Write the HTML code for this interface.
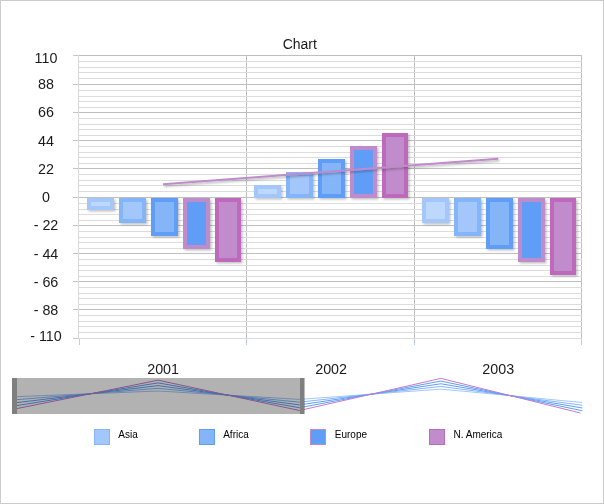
<!DOCTYPE html>
<html><head><meta charset="utf-8"><title>Chart</title>
<style>
html,body{margin:0;padding:0;background:#fff}
#c{position:relative;width:604px;height:504px;box-sizing:border-box;border:1px solid #ccc;background:#fff;overflow:hidden}
#c svg{left:-1px!important;top:-1px!important}
</style></head><body>
<div id="c">
<svg width="604" height="504" viewBox="0 0 604 504" style="position:absolute;left:0;top:0">
<defs><filter id="sh" x="-20%" y="-20%" width="150%" height="150%"><feDropShadow dx="1.5" dy="1.5" stdDeviation="1.2" flood-color="#000" flood-opacity="0.24"/></filter><filter id="shl" x="-5%" y="-50%" width="110%" height="250%"><feDropShadow dx="1" dy="1.5" stdDeviation="0.8" flood-color="#000" flood-opacity="0.32"/></filter></defs>
<g shape-rendering="crispEdges">
<rect x="246" y="55" width="1" height="284" fill="#bfbfbf"/>
<rect x="414" y="55" width="1" height="284" fill="#bfbfbf"/>
<rect x="581" y="55" width="1" height="284" fill="#bfbfbf"/>
<rect x="78" y="55" width="1" height="284" fill="#d9d9d9"/>
<rect x="79" y="55" width="503" height="1" fill="#bfbfbf"/>
<rect x="79" y="61" width="503" height="1" fill="#dcdcdc"/>
<rect x="79" y="67" width="503" height="1" fill="#dcdcdc"/>
<rect x="79" y="72" width="503" height="1" fill="#dcdcdc"/>
<rect x="79" y="78" width="503" height="1" fill="#dcdcdc"/>
<rect x="79" y="84" width="503" height="1" fill="#bfbfbf"/>
<rect x="79" y="90" width="503" height="1" fill="#dcdcdc"/>
<rect x="79" y="96" width="503" height="1" fill="#dcdcdc"/>
<rect x="79" y="101" width="503" height="1" fill="#dcdcdc"/>
<rect x="79" y="107" width="503" height="1" fill="#dcdcdc"/>
<rect x="79" y="112" width="503" height="1" fill="#bfbfbf"/>
<rect x="79" y="118" width="503" height="1" fill="#dcdcdc"/>
<rect x="79" y="124" width="503" height="1" fill="#dcdcdc"/>
<rect x="79" y="129" width="503" height="1" fill="#dcdcdc"/>
<rect x="79" y="135" width="503" height="1" fill="#dcdcdc"/>
<rect x="79" y="140" width="503" height="1" fill="#bfbfbf"/>
<rect x="79" y="146" width="503" height="1" fill="#dcdcdc"/>
<rect x="79" y="152" width="503" height="1" fill="#dcdcdc"/>
<rect x="79" y="157" width="503" height="1" fill="#dcdcdc"/>
<rect x="79" y="163" width="503" height="1" fill="#dcdcdc"/>
<rect x="79" y="168" width="503" height="1" fill="#bfbfbf"/>
<rect x="79" y="174" width="503" height="1" fill="#dcdcdc"/>
<rect x="79" y="180" width="503" height="1" fill="#dcdcdc"/>
<rect x="79" y="185" width="503" height="1" fill="#dcdcdc"/>
<rect x="79" y="191" width="503" height="1" fill="#dcdcdc"/>
<rect x="79" y="197" width="503" height="1" fill="#bfbfbf"/>
<rect x="79" y="203" width="503" height="1" fill="#dcdcdc"/>
<rect x="79" y="209" width="503" height="1" fill="#dcdcdc"/>
<rect x="79" y="214" width="503" height="1" fill="#dcdcdc"/>
<rect x="79" y="220" width="503" height="1" fill="#dcdcdc"/>
<rect x="79" y="225" width="503" height="1" fill="#bfbfbf"/>
<rect x="79" y="231" width="503" height="1" fill="#dcdcdc"/>
<rect x="79" y="237" width="503" height="1" fill="#dcdcdc"/>
<rect x="79" y="242" width="503" height="1" fill="#dcdcdc"/>
<rect x="79" y="248" width="503" height="1" fill="#dcdcdc"/>
<rect x="79" y="253" width="503" height="1" fill="#bfbfbf"/>
<rect x="79" y="259" width="503" height="1" fill="#dcdcdc"/>
<rect x="79" y="265" width="503" height="1" fill="#dcdcdc"/>
<rect x="79" y="270" width="503" height="1" fill="#dcdcdc"/>
<rect x="79" y="276" width="503" height="1" fill="#dcdcdc"/>
<rect x="79" y="281" width="503" height="1" fill="#bfbfbf"/>
<rect x="79" y="287" width="503" height="1" fill="#dcdcdc"/>
<rect x="79" y="293" width="503" height="1" fill="#dcdcdc"/>
<rect x="79" y="298" width="503" height="1" fill="#dcdcdc"/>
<rect x="79" y="304" width="503" height="1" fill="#dcdcdc"/>
<rect x="79" y="309" width="503" height="1" fill="#bfbfbf"/>
<rect x="79" y="315" width="503" height="1" fill="#dcdcdc"/>
<rect x="79" y="321" width="503" height="1" fill="#dcdcdc"/>
<rect x="79" y="326" width="503" height="1" fill="#dcdcdc"/>
<rect x="79" y="332" width="503" height="1" fill="#dcdcdc"/>
<rect x="79" y="338" width="503" height="1" fill="#d9d9d9"/>
<rect x="73" y="55" width="5" height="1" fill="#b3cbea"/>
<rect x="73" y="84" width="5" height="1" fill="#b3cbea"/>
<rect x="73" y="112" width="5" height="1" fill="#b3cbea"/>
<rect x="73" y="140" width="5" height="1" fill="#b3cbea"/>
<rect x="73" y="168" width="5" height="1" fill="#b3cbea"/>
<rect x="73" y="197" width="5" height="1" fill="#b3cbea"/>
<rect x="73" y="225" width="5" height="1" fill="#b3cbea"/>
<rect x="73" y="253" width="5" height="1" fill="#b3cbea"/>
<rect x="73" y="281" width="5" height="1" fill="#b3cbea"/>
<rect x="73" y="309" width="5" height="1" fill="#b3cbea"/>
<rect x="73" y="338" width="5" height="1" fill="#b3cbea"/>
<rect x="79" y="339" width="1" height="6" fill="#b9cfec"/>
<rect x="246" y="339" width="1" height="6" fill="#b9cfec"/>
<rect x="414" y="339" width="1" height="6" fill="#b9cfec"/>
<rect x="581" y="339" width="1" height="6" fill="#b9cfec"/>
</g>
<g shape-rendering="crispEdges">
<rect x="87" y="198" width="27" height="12" fill="#a3c7fb" filter="url(#sh)"/>
<rect x="91" y="202" width="19" height="4" fill="#bed7fd"/>
<rect x="119" y="198" width="27" height="25" fill="#85b5f9" filter="url(#sh)"/>
<rect x="123" y="202" width="19" height="17" fill="#a3c7fb"/>
<rect x="151" y="198" width="27" height="38" fill="#5f9df7" filter="url(#sh)"/>
<rect x="155" y="202" width="19" height="30" fill="#85b5f9"/>
<rect x="183" y="198" width="27" height="51" fill="#be8ccb" filter="url(#sh)"/>
<rect x="187" y="202" width="19" height="43" fill="#5f9df7"/>
<rect x="215" y="198" width="26" height="64" fill="#be69bb" filter="url(#sh)"/>
<rect x="219" y="202" width="18" height="56" fill="#c08ccc"/>
<rect x="254" y="185" width="27" height="13" fill="#a3c7fb" filter="url(#sh)"/>
<rect x="258" y="189" width="19" height="5" fill="#bed7fd"/>
<rect x="286" y="172" width="27" height="26" fill="#85b5f9" filter="url(#sh)"/>
<rect x="290" y="176" width="19" height="18" fill="#a3c7fb"/>
<rect x="318" y="159" width="27" height="39" fill="#5f9df7" filter="url(#sh)"/>
<rect x="322" y="163" width="19" height="31" fill="#85b5f9"/>
<rect x="350" y="146" width="27" height="52" fill="#be8ccb" filter="url(#sh)"/>
<rect x="354" y="150" width="19" height="44" fill="#5f9df7"/>
<rect x="382" y="133" width="26" height="65" fill="#be69bb" filter="url(#sh)"/>
<rect x="386" y="137" width="18" height="57" fill="#c08ccc"/>
<rect x="422" y="198" width="27" height="25" fill="#a3c7fb" filter="url(#sh)"/>
<rect x="426" y="202" width="19" height="17" fill="#bed7fd"/>
<rect x="454" y="198" width="27" height="38" fill="#85b5f9" filter="url(#sh)"/>
<rect x="458" y="202" width="19" height="30" fill="#a3c7fb"/>
<rect x="486" y="198" width="27" height="51" fill="#5f9df7" filter="url(#sh)"/>
<rect x="490" y="202" width="19" height="43" fill="#85b5f9"/>
<rect x="518" y="198" width="27" height="64" fill="#be8ccb" filter="url(#sh)"/>
<rect x="522" y="202" width="19" height="56" fill="#5f9df7"/>
<rect x="550" y="198" width="26" height="77" fill="#be69bb" filter="url(#sh)"/>
<rect x="554" y="202" width="18" height="69" fill="#c08ccc"/>
</g>
<line x1="163" y1="184.3" x2="498.3" y2="158.7" stroke="#be8ccb" stroke-width="2" filter="url(#shl)"/>
<clipPath id="cp"><rect x="0" y="370" width="580.4" height="50"/></clipPath>
<g fill="none" stroke-width="1" stroke-linejoin="round">
<polyline points="16.7,396.70 158.1,391.00 299.5,399.40 440.9,389.10 582.3,402.50" stroke="#a3c7fb"/>
<polyline points="16.7,399.68 158.1,388.30 299.5,402.17 440.9,386.43 582.3,405.25" stroke="#85b5f9"/>
<polyline points="16.7,402.65 158.1,385.60 299.5,404.95 440.9,383.75 582.3,408.00" stroke="#5f9df7"/>
<polyline points="16.7,405.62 158.1,382.90 299.5,407.73 440.9,381.07 582.3,410.75" stroke="#5f9df7"/>
<polyline points="16.7,408.60 158.1,380.20 299.5,410.50 440.9,378.40 582.3,413.50" stroke="#c47cc4" clip-path="url(#cp)"/>
</g>
<rect x="12" y="378" width="292" height="36" fill="#000" fill-opacity="0.3" shape-rendering="crispEdges"/>
<rect x="12" y="378" width="5" height="36" fill="#7f7f7f" shape-rendering="crispEdges"/>
<rect x="300" y="378" width="4" height="36" fill="#7f7f7f" shape-rendering="crispEdges"/>
<rect x="304" y="378" width="1" height="36" fill="#000" fill-opacity="0.27" shape-rendering="crispEdges"/>
<rect x="94.5" y="429.5" width="15" height="15" fill="#a3c7fb" stroke="#85b5f9" stroke-width="1" shape-rendering="crispEdges"/>
<rect x="199.5" y="429.5" width="15" height="15" fill="#85b5f9" stroke="#5f9df7" stroke-width="1" shape-rendering="crispEdges"/>
<rect x="310.5" y="429.5" width="15" height="15" fill="#5f9df7" stroke="#be8ccb" stroke-width="1" shape-rendering="crispEdges"/>
<rect x="429.5" y="429.5" width="15" height="15" fill="#c08ccc" stroke="#be69bb" stroke-width="1" shape-rendering="crispEdges"/>
<g font-family="'Liberation Sans', sans-serif" fill="#1a1a1a">
<text x="299.8" y="49" font-size="14" text-anchor="middle">Chart</text>
<text x="46" y="63.2" font-size="14.3" text-anchor="middle">110</text>
<text x="46" y="89" font-size="14.3" text-anchor="middle">88</text>
<text x="46" y="117" font-size="14.3" text-anchor="middle">66</text>
<text x="46" y="146" font-size="14.3" text-anchor="middle">44</text>
<text x="46" y="174" font-size="14.3" text-anchor="middle">22</text>
<text x="46" y="202" font-size="14.3" text-anchor="middle">0</text>
<text x="46" y="230" font-size="14.3" text-anchor="middle">- 22</text>
<text x="46" y="259" font-size="14.3" text-anchor="middle">- 44</text>
<text x="46" y="287" font-size="14.3" text-anchor="middle">- 66</text>
<text x="46" y="315" font-size="14.3" text-anchor="middle">- 88</text>
<text x="46" y="341" font-size="14.3" text-anchor="middle">- 110</text>
<text x="163.1" y="374" font-size="14.3" text-anchor="middle">2001</text>
<text x="331.1" y="374" font-size="14.3" text-anchor="middle">2002</text>
<text x="498.2" y="374" font-size="14.3" text-anchor="middle">2003</text>
<text x="118.3" y="438" font-size="10" fill="#000">Asia</text>
<text x="223.2" y="438" font-size="10" fill="#000">Africa</text>
<text x="334.8" y="438" font-size="10" fill="#000">Europe</text>
<text x="453.5" y="438" font-size="10" fill="#000">N. America</text>
</g>
</svg>
</div>
</body></html>
